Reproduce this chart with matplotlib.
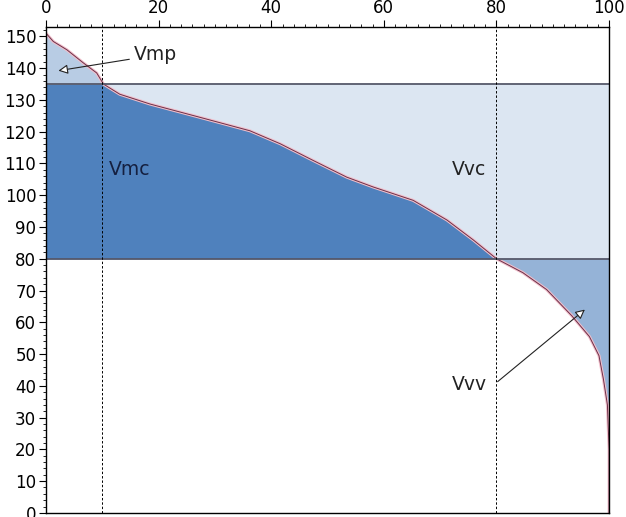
import numpy as np
import matplotlib
matplotlib.use("Agg")
import matplotlib.pyplot as plt
from matplotlib.ticker import MultipleLocator

# material ratio curve (Abbott-Firestone)
mr = [0, 1.3, 3.7, 6.6, 9.0, 10.2, 13.1, 18.5, 27.4, 36.2, 41.6, 47.5, 53.4,
      58.1, 65.2, 71.2, 75.9, 80, 84.7, 88.9, 93.4, 96.5, 98.2, 99.0, 99.7, 100, 100]
height = [151, 148.4, 145.8, 141.7, 138.5, 135, 131.8, 128.7, 124.5, 120.3, 116.2,
          110.9, 105.7, 102.6, 98.4, 92.2, 85.9, 80, 75.6, 70.3, 62, 55.5, 49.5, 42,
          34, 20, 0]
peak_level = 135
valley_level = 80
mr1 = 10
mr2 = 80

x = np.array(mr)
h = np.array(height, dtype=float)

fig = plt.figure(figsize=(6.26, 5.17), dpi=100)
ax = fig.add_axes([0.0735, 0.008, 0.8995, 0.94])

# volumes
ax.fill_between(x, peak_level, h, where=h >= peak_level, interpolate=True,
                color='#b8cce4', lw=0)
ax.fill_between(x, valley_level, np.clip(h, valley_level, peak_level),
                color='#4f81bd', lw=0)
ax.fill_between(x, np.clip(h, valley_level, peak_level), peak_level,
                color='#dce6f2', lw=0)
ax.fill_between(x, np.minimum(h, valley_level), valley_level,
                color='#95b3d7', lw=0)

# curve
ax.plot(x, h, color='#f2c0cc', lw=2.2, zorder=3)
ax.plot(x, h, color='#6b3048', lw=0.7, zorder=4)

ax.axhline(peak_level, color='#55586a', lw=1.3, zorder=5)
ax.axhline(valley_level, color='#55586a', lw=1.3, zorder=5)
ax.axvline(mr1, color='black', lw=0.7, ls=(0, (2.5, 2)), zorder=6)
ax.axvline(mr2, color='black', lw=0.7, ls=(0, (2.5, 2)), zorder=6)

arrow = dict(arrowstyle='-|>', fc='white', ec='#222222', lw=0.8,
             mutation_scale=14, shrinkA=0, shrinkB=0)
ax.annotate('', xy=(2.2, 139.2), xytext=(14.8, 142.8), arrowprops=arrow, zorder=7)
ax.text(15.6, 144.3, 'Vmp', fontsize=13.5, color='#222222', va='center')
ax.text(11.2, 108, 'Vmc', fontsize=13.5, color='#152040', va='center')
ax.text(72.0, 108, 'Vvc', fontsize=13.5, color='#222222', va='center')
ax.annotate('', xy=(95.7, 64), xytext=(80.2, 41.3), arrowprops=arrow, zorder=7)
ax.text(72.0, 40.3, 'Vvv', fontsize=13.5, color='#222222', va='center')

ax.set_xlim(0, 100)
ax.set_ylim(0, 153)
ax.xaxis.tick_top()
ax.xaxis.set_major_locator(MultipleLocator(20))
ax.xaxis.set_minor_locator(MultipleLocator(2))
ax.yaxis.set_major_locator(MultipleLocator(10))
ax.yaxis.set_minor_locator(MultipleLocator(2))
ax.tick_params(which='major', length=5, labelsize=12, pad=2)
ax.tick_params(which='minor', length=2.5)
for s in ax.spines.values():
    s.set_linewidth(1.0)
    s.set_zorder(8)

fig.savefig('out.png', dpi=100)
